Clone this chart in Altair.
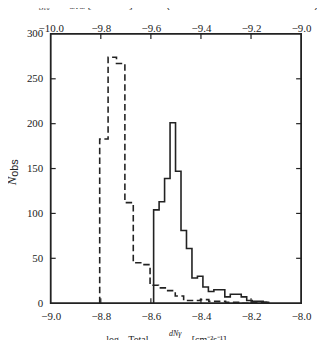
import altair as alt
import pandas as pd

# ---- data ----
# solid histogram (bottom axis, log10 Total dN_gamma/dA dt)
solid_start = -8.589
solid_width = 0.02187
solid_counts = [104, 113, 139, 201, 147, 81, 61, 28, 30, 18, 13, 15, 15, 7,
                10, 10, 7, 3, 2, 2, 1]

# dashed histogram (top axis, No Sommerfeld enhancement)
dashed_start = -9.8044
dashed_width = 0.03353
dashed_counts = [183, 274, 267, 112, 45, 43, 20, 17, 14, 8, 3, 3, 4, 2, 2,
                 1, 1, 0, 1, 1]

bottom_ticks = [-9.0, -8.8, -8.6, -8.4, -8.2, -8.0]
top_ticks = [-10.0, -9.8, -9.6, -9.4, -9.2, -9.0]
y_ticks = [0, 50, 100, 150, 200, 250, 300]

W, H = 252, 271
INK = "#222222"
SERIF = "Liberation Serif"
SANS = "Liberation Sans"


def step_outline(start, width, counts):
    xs, ys = [start], [0]
    for i, c in enumerate(counts):
        xs += [start + i * width, start + (i + 1) * width]
        ys += [c, c]
    xs.append(start + len(counts) * width)
    ys.append(0)
    return pd.DataFrame({"x": xs, "y": ys, "o": list(range(len(xs)))})


solid_df = step_outline(solid_start, solid_width, solid_counts)
dashed_df = step_outline(dashed_start, dashed_width, dashed_counts)

yscale = alt.Scale(domain=[0, 300], nice=False, zero=False)
bscale = alt.Scale(domain=[-9.0, -8.0], nice=False, zero=False)
tscale = alt.Scale(domain=[-10.0, -9.0], nice=False, zero=False)

axis_common = dict(ticks=False, tickSize=0, domain=False, grid=False,
                   labelFont=SERIF, labelFontSize=11, labelColor=INK,
                   labelOverlap=False, labelFlush=False, title=None)

yaxis = alt.Axis(orient="left", values=y_ticks, format="d", labelPadding=8,
                 **axis_common)

solid = alt.Chart(solid_df).mark_line(color=INK, strokeWidth=1.6).encode(
    x=alt.X("x:Q", scale=bscale,
            axis=alt.Axis(orient="bottom", values=bottom_ticks, format=".1f",
                          labelPadding=7, **axis_common)),
    y=alt.Y("y:Q", scale=yscale, axis=yaxis),
    order="o:Q",
)

dashed = alt.Chart(dashed_df).mark_line(
    color=INK, strokeWidth=1.6, strokeDash=[6.5, 3.5]).encode(
    x=alt.X("x:Q", scale=tscale,
            axis=alt.Axis(orient="top", values=top_ticks, format=".1f",
                          labelPadding=0, **axis_common)),
    y=alt.Y("y:Q", scale=yscale, axis=yaxis),
    order="o:Q",
)

# inward ticks
yt = pd.DataFrame({"v": y_ticks[1:-1]})
xt = pd.DataFrame({"v": bottom_ticks[1:-1]})
tick_style = dict(color=INK, strokeWidth=1.2)
left_ticks = alt.Chart(yt).mark_rule(**tick_style).encode(
    y=alt.Y("v:Q", scale=yscale, axis=yaxis), x=alt.value(0), x2=alt.value(5))
right_ticks = alt.Chart(yt).mark_rule(**tick_style).encode(
    y=alt.Y("v:Q", scale=yscale, axis=yaxis), x=alt.value(W - 5), x2=alt.value(W))
bot_ticks = alt.Chart(xt).mark_rule(**tick_style).encode(
    x=alt.X("v:Q", scale=bscale, axis=None), y=alt.value(H - 5), y2=alt.value(H))
top_ticks_m = alt.Chart(xt).mark_rule(**tick_style).encode(
    x=alt.X("v:Q", scale=bscale, axis=None), y=alt.value(0), y2=alt.value(5))


def label(text, x, y, **kw):
    return alt.Chart(pd.DataFrame({"t": [text]})).mark_text(**kw).encode(
        x=alt.value(x), y=alt.value(y), text="t:N")


ylab_n = label("N", -39, 148, font=SERIF, fontStyle="italic", fontSize=13,
               angle=270, color=INK)
ylab_obs = label("obs", -36, 135, font=SANS, fontSize=11,
                 angle=270, color=INK)

# top title (partly cut off by the page edge, as in the reference)
tt1 = label("log₁₀ Total", -19, -26, font=SERIF, fontSize=9, align="left",
            baseline="alphabetic", color=INK)
tt2 = label("dA dt", 19, -25, font=SERIF, fontSize=7, align="left",
            baseline="alphabetic", color=INK)
tt3 = label("[cm⁻²  s⁻¹]", 37, -26, font=SERIF, fontSize=12, align="left",
            baseline="alphabetic", color=INK)
tt4 = label("(No Sommerfeld enhancement)", 116, -26, font=SANS,
            fontSize=11, align="left", baseline="alphabetic", color=INK)

# bottom title (partly cut off by the window bottom)
bt1 = label("log₁₀ Total", 56, 311, font=SERIF, fontSize=10, align="left",
            baseline="alphabetic", color=INK)
bt2 = label("dNγ", 119, 304, font=SERIF, fontSize=8, fontStyle="italic",
            align="left", baseline="alphabetic", color=INK)
bt3 = label("[cm⁻²s⁻¹]", 142, 311, font=SERIF, fontSize=10, align="left",
            baseline="alphabetic", color=INK)

chart = alt.layer(
    solid, dashed, left_ticks, right_ticks, bot_ticks, top_ticks_m,
    ylab_n, ylab_obs, tt1, tt2, tt3, tt4, bt1, bt2, bt3,
).resolve_scale(x="independent").properties(
    width=W, height=H,
    background="white",
    autosize=alt.AutoSizeParams(type="none"),
    padding={"left": 43, "top": 25, "right": 16, "bottom": 40},
).configure_view(stroke=INK, strokeWidth=1.8)

chart.save("out.html", embed_options={"renderer": "svg", "actions": False})
